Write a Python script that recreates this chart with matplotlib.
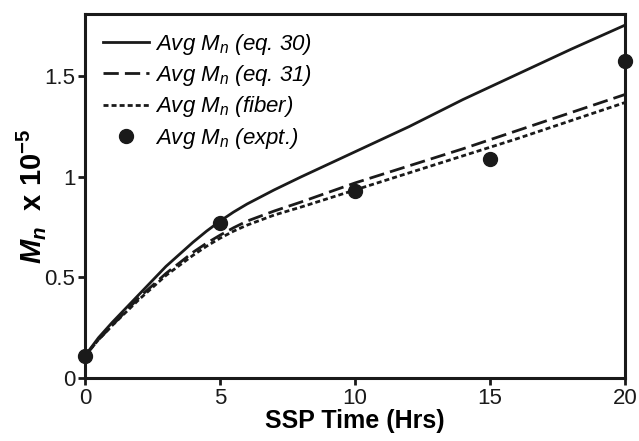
import matplotlib
matplotlib.use('Agg')
import matplotlib.pyplot as plt

plt.rcParams['font.family'] = ['Liberation Sans', 'DejaVu Sans']
plt.rcParams['mathtext.fontset'] = 'custom'
plt.rcParams['mathtext.rm'] = 'Liberation Sans'
plt.rcParams['mathtext.it'] = 'Liberation Sans:italic'
plt.rcParams['mathtext.bf'] = 'Liberation Sans:bold'
plt.rcParams['mathtext.bfit'] = 'Liberation Sans:bold:italic'

# model curves, Mn x 10^-5 vs SSP time (hrs)
t_model = [0, 0.5, 1, 1.5, 2, 3, 4, 4.5, 5, 5.5, 6, 7, 8, 10, 12, 14, 16, 18, 20]
mn_eq30 = [0.11, 0.20, 0.275, 0.345, 0.415, 0.555, 0.675, 0.73, 0.78, 0.825, 0.865,
           0.935, 1.0, 1.125, 1.25, 1.385, 1.51, 1.635, 1.755]
mn_eq31 = [0.11, 0.19, 0.26, 0.33, 0.40, 0.52, 0.625, 0.67, 0.71, 0.747, 0.78,
           0.83, 0.875, 0.97, 1.055, 1.14, 1.23, 1.32, 1.41]
mn_fiber = [0.11, 0.19, 0.26, 0.325, 0.39, 0.51, 0.61, 0.655, 0.695, 0.73, 0.76,
            0.81, 0.85, 0.935, 1.02, 1.105, 1.19, 1.28, 1.37]

# measured values
t_expt = [0, 5, 10, 15, 20]
mn_expt = [0.11, 0.77, 0.93, 1.09, 1.575]

fig = plt.figure(figsize=(6.39, 4.41), dpi=100)
ax = fig.add_axes([0.133, 0.143, 0.845, 0.825])

ax.plot(t_model, mn_eq30, color='#1a1a1a', lw=2.0, label='Avg $M_n$ (eq. 30)')
ax.plot(t_model, mn_eq31, color='#1a1a1a', lw=2.0, linestyle=(0, (5.5, 2.2)),
        label='Avg $M_n$ (eq. 31)')
ax.plot(t_model, mn_fiber, color='#1a1a1a', lw=2.0, linestyle=(0, (1.8, 1.1)),
        label='Avg $M_n$ (fiber)')
ax.plot(t_expt, mn_expt, 'o', color='#1a1a1a', ms=10, clip_on=False, zorder=5,
        label='Avg $M_n$ (expt.)')

ax.set_xlim(0, 20)
ax.set_ylim(0, 1.81)
ax.set_xticks([0, 5, 10, 15, 20])
ax.set_yticks([0, 0.5, 1, 1.5])
ax.set_yticklabels(['0', '0.5', '1', '1.5'])

for s in ax.spines.values():
    s.set_linewidth(2.2)
    s.set_color('#1a1a1a')
ax.tick_params(direction='out', length=5, width=2, labelsize=16, colors='#1a1a1a', pad=2)

ax.set_xlabel('SSP Time (Hrs)', fontsize=18, fontweight='bold', labelpad=0)
ax.set_ylabel(r'$\mathbfit{M}_\mathbfit{n}$  x 10$^{\mathbf{-5}}$', fontsize=21,
              fontweight='bold')
ax.yaxis.set_label_coords(-0.068, 0.5)

leg = ax.legend(loc='upper left', frameon=False, handlelength=2.1, handletextpad=0.25,
                labelspacing=0.28, borderaxespad=0.3, borderpad=0.5,
                prop={'size': 16, 'style': 'italic'})

fig.savefig('out.png', dpi=100)
